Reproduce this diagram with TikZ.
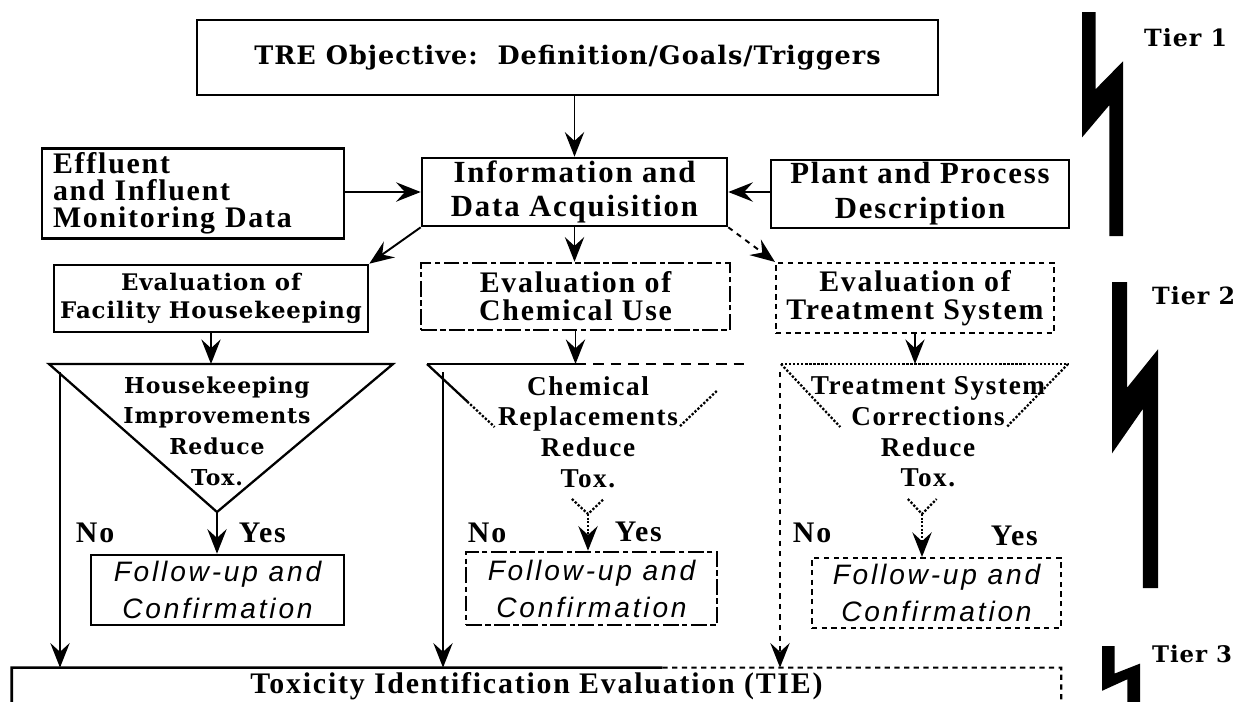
\documentclass[tikz,border=0pt]{standalone}
\usepackage{fontspec}
\setmainfont{Liberation Serif}
\newfontfamily\widefont{DejaVu Serif}[LetterSpace=4]
\newfontfamily\spacedfont{Liberation Serif}[LetterSpace=6]
\newfontfamily\slantfont{Liberation Sans}[LetterSpace=10]
\usetikzlibrary{arrows.meta,calc}

\begin{document}
\begin{tikzpicture}[x=0.02cm,y=-0.02cm,
    box/.style={draw,line width=1.5pt,inner sep=0pt,align=center},
    dashbox/.style={box,dash pattern=on 9pt off 2pt on 3pt off 2pt},
    dotbox/.style={box,line width=1.2pt,dash pattern=on 3pt off 2.5pt},
    flow/.style={-{Stealth[length=14pt,width=11pt,inset=5pt]},line width=1.1pt},
    side/.style={line width=1.3pt},
    wide/.style 2 args={font=\widefont\bfseries\fontsize{#1}{#2}\selectfont},
    spaced/.style 2 args={font=\spacedfont\bfseries\fontsize{#1}{#2}\selectfont},
    slant/.style 2 args={font=\slantfont\itshape\fontsize{#1}{#2}\selectfont},
    lbl/.style={spaced={17}{19},inner sep=0pt}]
\useasboundingbox (0,0) rectangle (1241,701);
\clip (0,0) rectangle (1241,701);

% tier 1
\node[box,wide={14.5}{16},minimum width=14.82cm,minimum height=1.5cm] (tre) at (567.5,57.5) {TRE Objective:\ \ Definition/Goals/Triggers};
\node[box,spaced={17.5}{19},minimum width=6.1cm,minimum height=1.36cm] (info) at (574.5,192) {Information and\\Data Acquisition};
\node[box,spaced={17}{15.5},align=left,text width=5.6cm,inner xsep=0.22cm,minimum height=1.8cm] (effl) at (193,193.5) {Effluent\\and Influent\\Monitoring Data};
\node[box,spaced={17.5}{20},minimum width=5.96cm,minimum height=1.36cm] (plant) at (920,194) {Plant and Process\\Description};

% tier 2
\node[box,wide={13}{16},minimum width=6.28cm,minimum height=1.34cm] (evhouse) at (211,298.5) {Evaluation of\\Facility Housekeeping};
\node[dashbox,spaced={17}{16},minimum width=6.18cm,minimum height=1.34cm] (evchem) at (575.5,296.5) {Evaluation of\\Chemical Use};
\node[dotbox,spaced={17}{16},minimum width=5.56cm,minimum height=1.4cm] (evtreat) at (915,298) {Evaluation of\\Treatment System};

\coordinate (hk-l) at (49,364);
\coordinate (hk-r) at (393,364);
\coordinate (hk-a) at (217,512);
\coordinate (ch-l) at (427,364);
\coordinate (ch-r) at (745,364);
\coordinate (ch-a) at (588,514);
\coordinate (tr-l) at (781,364);
\coordinate (tr-r) at (1068,364);
\coordinate (tr-a) at (922,514);
\coordinate (hk-no) at (60,372);
\coordinate (ch-no) at (443,372);
\coordinate (tr-no) at (780,372);

% triangles
\draw[side] (hk-l) -- (hk-r) -- (hk-a) -- cycle;
\draw[side] (ch-l) -- (evchem.south |- ch-l);
\draw[side,dash pattern=on 6pt off 4pt] (evchem.south |- ch-l) -- (ch-r);
\draw[side] (ch-l) -- ($(ch-l)!0.25!(ch-a)$);
\draw[side,densely dotted] ($(ch-l)!0.25!(ch-a)$) -- ($(ch-l)!0.42!(ch-a)$);
\draw[side,densely dotted] ($(ch-r)!0.18!(ch-a)$) -- ($(ch-r)!0.42!(ch-a)$);
\draw[side,densely dotted] ($(ch-l)!0.9!(ch-a)$) -- (ch-a) -- ($(ch-r)!0.9!(ch-a)$);
\draw[side,densely dotted] (tr-l) -- (tr-r);
\draw[side,densely dotted] (tr-l) -- ($(tr-l)!0.42!(tr-a)$);
\draw[side,densely dotted] (tr-r) -- ($(tr-r)!0.42!(tr-a)$);
\draw[side,densely dotted] ($(tr-l)!0.9!(tr-a)$) -- (tr-a) -- ($(tr-r)!0.9!(tr-a)$);

\node[wide={12.5}{17.4},align=center] (hktext) at (217,431) {Housekeeping\\Improvements\\Reduce\\Tox.};
\node[spaced={15.5}{17.4},align=center] (chtext) at (588,432) {Chemical\\Replacements\\Reduce\\Tox.};
\node[spaced={15.5}{17.4},align=center] (trtext) at (928,432) {Treatment System\\Corrections\\Reduce\\Tox.};

\node[box,slant={16}{21},minimum width=5.06cm,minimum height=1.4cm] (fuhouse) at (217.5,590) {Follow-up and\\Confirmation};
\node[dashbox,slant={16}{21},minimum width=5.02cm,minimum height=1.46cm] (fuchem) at (591.5,588.5) {Follow-up and\\Confirmation};
\node[dotbox,slant={16}{21},minimum width=4.98cm,minimum height=1.4cm] (futreat) at (936.5,593) {Follow-up and\\Confirmation};

% tier 3
\node[spaced={17}{19},minimum width=20.98cm,minimum height=0.72cm,inner sep=0pt] (tie) at (536.5,686) {Toxicity Identification Evaluation (TIE)};
\draw[line width=1.5pt] ([yshift=-1cm]tie.south west) -- (tie.north west) -- ($(tie.north west)!0.62!(tie.north east)$);
\draw[line width=1.2pt,dash pattern=on 3pt off 2.5pt] ($(tie.north west)!0.62!(tie.north east)$) -- (tie.north east) -- ([yshift=-1cm]tie.south east);

% connectors
\draw[flow] (tre.south -| info.north) -- (info.north);
\draw[flow] (effl.east |- info.west) -- (info.west);
\draw[flow] (plant.west |- info.east) -- (info.east);
\draw[flow] (info.south west) -- (evhouse.north east);
\draw[flow] (info.south) -- (info.south |- evchem.north);
\draw[flow,dashed] (info.south east) -- (evtreat.north west);
\draw[flow] (evhouse.south) -- (evhouse.south |- hk-l);
\draw[flow] (evchem.south) -- (evchem.south |- ch-l);
\draw[flow] (evtreat.south) -- (evtreat.south |- tr-l);

\draw[flow] (hk-no) -- (hk-no |- tie.north) node[lbl,pos=0.544,right=0.3cm] {No};
\draw[flow] (ch-no) -- (ch-no |- tie.north) node[lbl,pos=0.544,right=0.48cm] {No};
\draw[flow,dashed] (tr-no) -- (tr-no |- tie.north) node[lbl,pos=0.544,right=0.24cm] {No};
\draw[flow] (hk-a) -- (hk-a |- fuhouse.north) node[lbl,pos=0.5,right=0.42cm] {Yes};
\draw[flow,densely dotted] (ch-a) -- (ch-a |- fuchem.north) node[lbl,pos=0.5,right=0.52cm] {Yes};
\draw[flow,densely dotted] (tr-a) -- (tr-a |- futreat.north) node[lbl,pos=0.5,right=1.36cm] {Yes};

% tier marks
\foreach \bx/\by/\bw/\bh in {1082/12/41/224, 1112/282/46/306, 1102/646/38/80}
  \fill (\bx,\by) -- ({\bx+0.33*\bw},\by) -- ({\bx+0.33*\bw},{\by+0.345*\bh}) -- ({\bx+\bw},{\by+0.22*\bh})
    -- ({\bx+\bw},{\by+\bh}) -- ({\bx+0.67*\bw},{\by+\bh}) -- ({\bx+0.67*\bw},{\by+0.415*\bh}) -- (\bx,{\by+0.56*\bh}) -- cycle;
\node[wide={13.5}{15},anchor=west] (tierone) at (1138,38) {Tier 1};
\node[wide={13.5}{15},anchor=west] (tiertwo) at (1146,296) {Tier 2};
\node[wide={13}{15},anchor=west] (tierthree) at (1146,654) {Tier 3};
\end{tikzpicture}
\end{document}
